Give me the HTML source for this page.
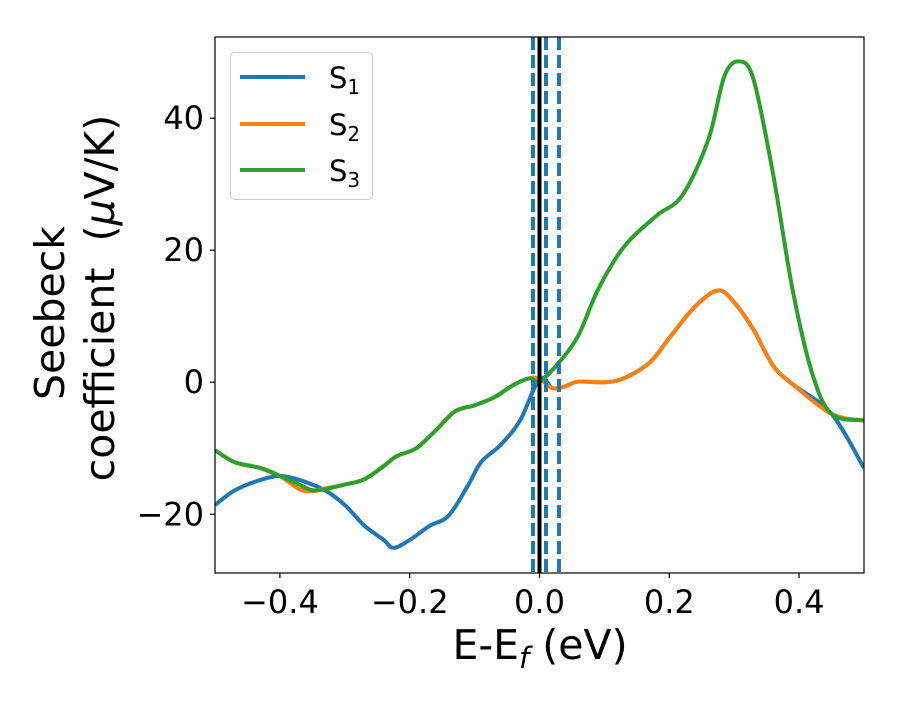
<!DOCTYPE html>
<html><head><meta charset="utf-8"><style>
body{margin:0;background:#fff}
svg text{font-family:"DejaVu Sans","Liberation Sans",sans-serif;fill:#000}
</style></head><body>
<svg id="chart" width="900" height="700" viewBox="0 0 900 700">
<g id="marks"></g>
<g id="axes"></g>
</svg>
<script>
const xS1=[-0.5,-0.47,-0.43,-0.4,-0.37,-0.33,-0.3,-0.27,-0.24,-0.225,-0.2,-0.17,-0.14,-0.11,-0.09,-0.06,-0.03,0,0.02,0.04,0.06,0.1,0.13,0.17,0.2,0.24,0.275,0.3,0.33,0.36,0.39,0.45,0.5];
const yS1=[-18.6,-16.4,-14.8,-14.2,-14.8,-16.4,-18.6,-21.7,-23.9,-25.1,-23.9,-21.8,-20.2,-15.6,-12.1,-9.5,-5.8,0.5,-0.9,-0.6,0.1,0,0.6,3,6.7,11.5,13.9,12.1,7.9,2.5,-0.3,-4.8,-13];
const xS2=[-0.5,-0.47,-0.43,-0.4,-0.37,-0.35,-0.33,-0.3,-0.27,-0.24,-0.22,-0.19,-0.16,-0.13,-0.1,-0.07,-0.04,-0.015,0,0.02,0.04,0.06,0.1,0.13,0.17,0.2,0.24,0.275,0.3,0.33,0.36,0.39,0.45,0.5];
const yS2=[-10.3,-12.1,-13,-14.2,-16.2,-16.5,-16.1,-15.5,-14.7,-12.7,-11.2,-10,-7.3,-4.4,-3.5,-2.3,-0.4,0.6,0.5,-0.9,-0.6,0.1,0,0.6,3,6.7,11.5,13.9,12.1,7.9,2.5,-0.3,-4.8,-5.8];
const xS3=[-0.5,-0.47,-0.43,-0.4,-0.37,-0.345,-0.3,-0.27,-0.24,-0.22,-0.19,-0.16,-0.13,-0.1,-0.07,-0.04,-0.015,0,0.03,0.06,0.09,0.13,0.18,0.22,0.26,0.285,0.308,0.33,0.36,0.39,0.42,0.45,0.5];
const yS3=[-10.3,-12.1,-13,-14.2,-15.5,-16.4,-15.5,-14.7,-12.7,-11.2,-10,-7.3,-4.4,-3.5,-2.3,-0.4,0.6,0.1,3,7.1,14,20.5,25.2,28.3,36.7,46.4,48.6,45.8,31.5,14,1.4,-4.8,-5.8];
const xTicks=[-0.4,-0.2,0.0,0.2,0.4];
const xTickLabels=["−0.4","−0.2","0.0","0.2","0.4"];
const yTicks=[-20,0,20,40];
const yTickLabels=["−20","0","20","40"];
const vDashed=[-0.01,0.01,0.03];
const L=215,R=864,T=37,B=573;
const xMin=-0.5,xMax=0.5,yMin=-28.9,yMax=52.3;
const sx=v=>L+(v-xMin)/(xMax-xMin)*(R-L);
const sy=v=>B-(v-yMin)/(yMax-yMin)*(B-T);
const NS="http://www.w3.org/2000/svg";
const marks=document.getElementById('marks'),axes=document.getElementById('axes');
function mk(tag,attrs,parent){const e=document.createElementNS(NS,tag);for(const k in attrs)e.setAttribute(k,attrs[k]);parent.appendChild(e);return e;}
function path(xs,ys){const p=xs.map((x,i)=>[sx(x),sy(ys[i])]);let d=`M${p[0][0]},${p[0][1]}`;
for(let i=0;i<p.length-1;i++){const p0=p[i-1]||p[i],p1=p[i],p2=p[i+1],p3=p[i+2]||p2;
d+=` C${p1[0]+(p2[0]-p0[0])/6},${p1[1]+(p2[1]-p0[1])/6} ${p2[0]-(p3[0]-p1[0])/6},${p2[1]-(p3[1]-p1[1])/6} ${p2[0]},${p2[1]}`;}return d;}
const clip=mk('clipPath',{id:'pc'},marks);mk('rect',{x:L,y:T,width:R-L,height:B-T},clip);
const g=mk('g',{'clip-path':'url(#pc)'},marks);
let e;
e=mk('path',{d:path(xS1,yS1),fill:'none',stroke:'#1f77b4','stroke-width':4,'stroke-linejoin':'round'},g);

e=mk('path',{d:path(xS2,yS2),fill:'none',stroke:'#ff7f0e','stroke-width':4,'stroke-linejoin':'round'},g);

e=mk('path',{d:path(xS3,yS3),fill:'none',stroke:'#2ca02c','stroke-width':4,'stroke-linejoin':'round'},g);

vDashed.forEach(v=>{e=mk('line',{x1:sx(v),x2:sx(v),y1:T,y2:B,stroke:'#1f77b4','stroke-width':4,'stroke-dasharray':'13,5'},g);
});
e=mk('line',{x1:sx(0),x2:sx(0),y1:T,y2:B,stroke:'#000','stroke-width':4},g);

e=mk('rect',{x:L,y:T,width:R-L,height:B-T,fill:'none',stroke:'#000','stroke-width':1.2},axes);

xTicks.forEach((v,i)=>{mk('line',{x1:sx(v),x2:sx(v),y1:B,y2:B+5,stroke:'#000','stroke-width':1.2},axes);
e=mk('text',{x:sx(v),y:B+40,'font-size':32,'text-anchor':'middle'},axes);e.textContent=xTickLabels[i];
});
yTicks.forEach((v,i)=>{mk('line',{x1:L-5,x2:L,y1:sy(v),y2:sy(v),stroke:'#000','stroke-width':1.2},axes);
e=mk('text',{x:L-11,y:sy(v)+11,'font-size':32,'text-anchor':'end'},axes);e.textContent=yTickLabels[i];
});
</script>
<svg width="900" height="700" style="position:absolute;left:0;top:0">
<text x="540" y="659" font-size="41" text-anchor="middle" font-family="DejaVu Sans,sans-serif">E-E<tspan font-size="29" dy="9" font-style="italic">f</tspan><tspan dy="-9"> (eV)</tspan></text>
<text transform="translate(64,313) rotate(-90)" font-size="41" text-anchor="middle" font-family="DejaVu Sans,sans-serif">Seebeck</text>
<text transform="translate(114,298) rotate(-90)" font-size="41" text-anchor="middle" font-family="DejaVu Sans,sans-serif">coefficient&#160; (<tspan font-style="italic">μ</tspan>V/K)</text>
<g>
<rect x="230.5" y="52.5" width="142" height="147" rx="4" fill="#fff" fill-opacity="0.8" stroke="#ccc"/>
<line x1="240" x2="305" y1="77" y2="77" stroke="#1f77b4" stroke-width="4"/>
<line x1="240" x2="305" y1="124" y2="124" stroke="#ff7f0e" stroke-width="4"/>
<line x1="240" x2="305" y1="170" y2="170" stroke="#2ca02c" stroke-width="4"/>
<text x="329" y="88" font-size="29" font-family="DejaVu Sans,sans-serif">S<tspan font-size="20" dy="6">1</tspan></text>
<text x="329" y="135" font-size="29" font-family="DejaVu Sans,sans-serif">S<tspan font-size="20" dy="6">2</tspan></text>
<text x="329" y="181" font-size="29" font-family="DejaVu Sans,sans-serif">S<tspan font-size="20" dy="6">3</tspan></text>
</g>
</svg>
</body></html>
